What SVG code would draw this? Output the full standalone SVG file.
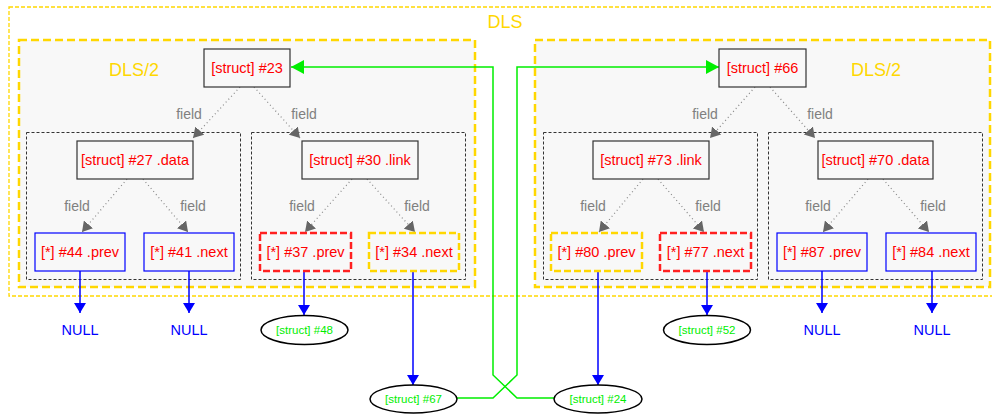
<svg xmlns="http://www.w3.org/2000/svg" width="992" height="414" viewBox="0 0 992 414">
<style>
text{font-family:"Liberation Sans",Arial,sans-serif;text-anchor:middle}
.lbl{font-size:18px;fill:#ffd700}
.nt{font-size:14.5px;fill:#ff0000}
.ft{font-size:14px;fill:#808080}
.nul{font-size:14.5px;fill:#0000ff}
.et{font-size:11.5px;fill:#00ee00}
.outer{fill:#ffffff;stroke:#ffd700;stroke-width:1.3;stroke-dasharray:4,2}
.half{fill:#f8f8f8;stroke:#ffd700;stroke-width:2.5;stroke-dasharray:8,4}
.cl{fill:#f8f8f8;stroke:#333333;stroke-width:1;stroke-dasharray:3,2}
.sb{fill:#f8f8f8;stroke:#333333;stroke-width:1.2}
.blue{fill:#f8f8f8;stroke:#0000ff;stroke-width:1.2}
.redd{fill:#f8f8f8;stroke:#ff2020;stroke-width:2.5;stroke-dasharray:7,3}
.yeld{fill:#f8f8f8;stroke:#ffd700;stroke-width:2.5;stroke-dasharray:7,3}
.ell{fill:#ffffff;stroke:#000000;stroke-width:1.5}
.fe{fill:none;stroke:#888888;stroke-width:1.2;stroke-dasharray:1,3;marker-end:url(#ag)}
.be{fill:none;stroke:#0000ff;stroke-width:1.5;marker-end:url(#ab)}
.ge{fill:none;stroke:#00ee00;stroke-width:1.5;marker-end:url(#agr)}
</style>
<defs>
<marker id="ag" viewBox="0 0 10 12" refX="10" refY="6" markerWidth="10" markerHeight="12" markerUnits="userSpaceOnUse" orient="auto"><path d="M0,0 L10,6 L0,12 z" fill="#666666"/></marker>
<marker id="ab" viewBox="0 0 10 12" refX="10" refY="6" markerWidth="10" markerHeight="12" markerUnits="userSpaceOnUse" orient="auto"><path d="M0,0 L10,6 L0,12 z" fill="#0000ff"/></marker>
<marker id="agr" viewBox="0 0 13 14" refX="13" refY="7" markerWidth="13" markerHeight="14" markerUnits="userSpaceOnUse" orient="auto"><path d="M0,0 L13,7 L0,14 z" fill="#00ee00"/></marker>
</defs>
<rect width="992" height="414" fill="#ffffff"/>
<g id="cluster-dls">
<rect class="outer" x="9" y="7" width="990" height="289"/>
<text class="lbl" x="505" y="28">DLS</text>
</g>
<g id="cluster-dls2-left">
<rect class="half" x="19" y="40" width="456" height="247"/>
<text class="lbl" x="134" y="76">DLS/2</text>
</g>
<g id="cluster-dls2-right">
<rect class="half" x="535" y="40" width="455" height="247"/>
<text class="lbl" x="876" y="76">DLS/2</text>
</g>
<g id="cluster-27"><rect class="cl" x="26.5" y="132.5" width="214" height="147"/></g>
<g id="cluster-30"><rect class="cl" x="251.5" y="132.5" width="214" height="147"/></g>
<g id="cluster-73"><rect class="cl" x="543.5" y="132.5" width="214" height="147"/></g>
<g id="cluster-70"><rect class="cl" x="768.5" y="132.5" width="214" height="147"/></g>

<g id="connectors">
<path class="fe" d="M240,87 L193,138"/>
<path class="fe" d="M254,87 L300,138"/>
<path class="fe" d="M755,87 L710,138"/>
<path class="fe" d="M770,87 L815,138"/>
<path class="fe" d="M127,179 L82,232"/>
<path class="fe" d="M143,179 L188,232"/>
<path class="fe" d="M352,179 L305,232"/>
<path class="fe" d="M367,179 L415,232"/>
<path class="fe" d="M643,179 L599,232"/>
<path class="fe" d="M658,179 L704,232"/>
<path class="fe" d="M868,179 L823,232"/>
<path class="fe" d="M883,179 L929,232"/>
<path class="be" d="M80,271 L80,313"/>
<path class="be" d="M189,271 L189,313"/>
<path class="be" d="M304,271 L304,315"/>
<path class="be" d="M413,271 L413,385"/>
<path class="be" d="M598,271 L598,385"/>
<path class="be" d="M707,271 L707,315"/>
<path class="be" d="M822,271 L822,313"/>
<path class="be" d="M932,271 L932,313"/>
<path class="ge" d="M457,398 L493,398 L517,375 L517,67 L719,67"/>
<path class="ge" d="M554,398 L517,398 L493,375 L493,67 L291,67"/>
<text class="ft" x="189" y="119">field</text>
<text class="ft" x="304" y="119">field</text>
<text class="ft" x="705" y="119">field</text>
<text class="ft" x="820" y="119">field</text>
<text class="ft" x="77" y="211">field</text>
<text class="ft" x="193" y="211">field</text>
<text class="ft" x="302" y="211">field</text>
<text class="ft" x="417" y="211">field</text>
<text class="ft" x="593" y="211">field</text>
<text class="ft" x="708" y="211">field</text>
<text class="ft" x="818" y="211">field</text>
<text class="ft" x="933" y="211">field</text>
</g>

<g id="n23"><rect class="sb" x="204" y="49" width="86" height="38"/><text class="nt" x="247" y="73">[struct] #23</text></g>
<g id="n66"><rect class="sb" x="719" y="49" width="87" height="38"/><text class="nt" x="762.5" y="73">[struct] #66</text></g>
<g id="n27"><rect class="sb" x="77" y="141" width="116" height="38"/><text class="nt" x="135" y="165">[struct] #27 .data</text></g>
<g id="n30"><rect class="sb" x="302" y="141" width="116" height="38"/><text class="nt" x="360" y="165">[struct] #30 .link</text></g>
<g id="n73"><rect class="sb" x="593" y="141" width="116" height="38"/><text class="nt" x="651" y="165">[struct] #73 .link</text></g>
<g id="n70"><rect class="sb" x="818" y="141" width="115" height="38"/><text class="nt" x="875.5" y="165">[struct] #70 .data</text></g>

<g id="n44"><rect class="blue" x="35" y="233" width="90" height="38"/><text class="nt" x="80" y="257">[*] #44 .prev</text></g>
<g id="n41"><rect class="blue" x="144" y="233" width="90" height="38"/><text class="nt" x="189" y="257">[*] #41 .next</text></g>
<g id="n37"><rect class="redd" x="260" y="233" width="91" height="38"/><text class="nt" x="305.5" y="257">[*] #37 .prev</text></g>
<g id="n34"><rect class="yeld" x="369" y="233" width="90" height="38"/><text class="nt" x="414" y="257">[*] #34 .next</text></g>
<g id="n80"><rect class="yeld" x="551" y="233" width="91" height="38"/><text class="nt" x="596.5" y="257">[*] #80 .prev</text></g>
<g id="n77"><rect class="redd" x="660" y="233" width="91" height="38"/><text class="nt" x="705.5" y="257">[*] #77 .next</text></g>
<g id="n87"><rect class="blue" x="777" y="233" width="90" height="38"/><text class="nt" x="822" y="257">[*] #87 .prev</text></g>
<g id="n84"><rect class="blue" x="886" y="233" width="90" height="38"/><text class="nt" x="931" y="257">[*] #84 .next</text></g>

<g id="null1"><text class="nul" x="80" y="335">NULL</text></g>
<g id="null2"><text class="nul" x="189" y="335">NULL</text></g>
<g id="null3"><text class="nul" x="822" y="335">NULL</text></g>
<g id="null4"><text class="nul" x="932" y="335">NULL</text></g>

<g id="n48"><ellipse class="ell" cx="304.5" cy="330" rx="43.5" ry="14.5"/><text class="et" x="304.5" y="334">[struct] #48</text></g>
<g id="n52"><ellipse class="ell" cx="707" cy="330" rx="43.5" ry="14.5"/><text class="et" x="707" y="334">[struct] #52</text></g>
<g id="n67"><ellipse class="ell" cx="413.5" cy="399" rx="43.5" ry="14"/><text class="et" x="413.5" y="403">[struct] #67</text></g>
<g id="n24"><ellipse class="ell" cx="598" cy="399" rx="44" ry="14"/><text class="et" x="598" y="403">[struct] #24</text></g>
</svg>
